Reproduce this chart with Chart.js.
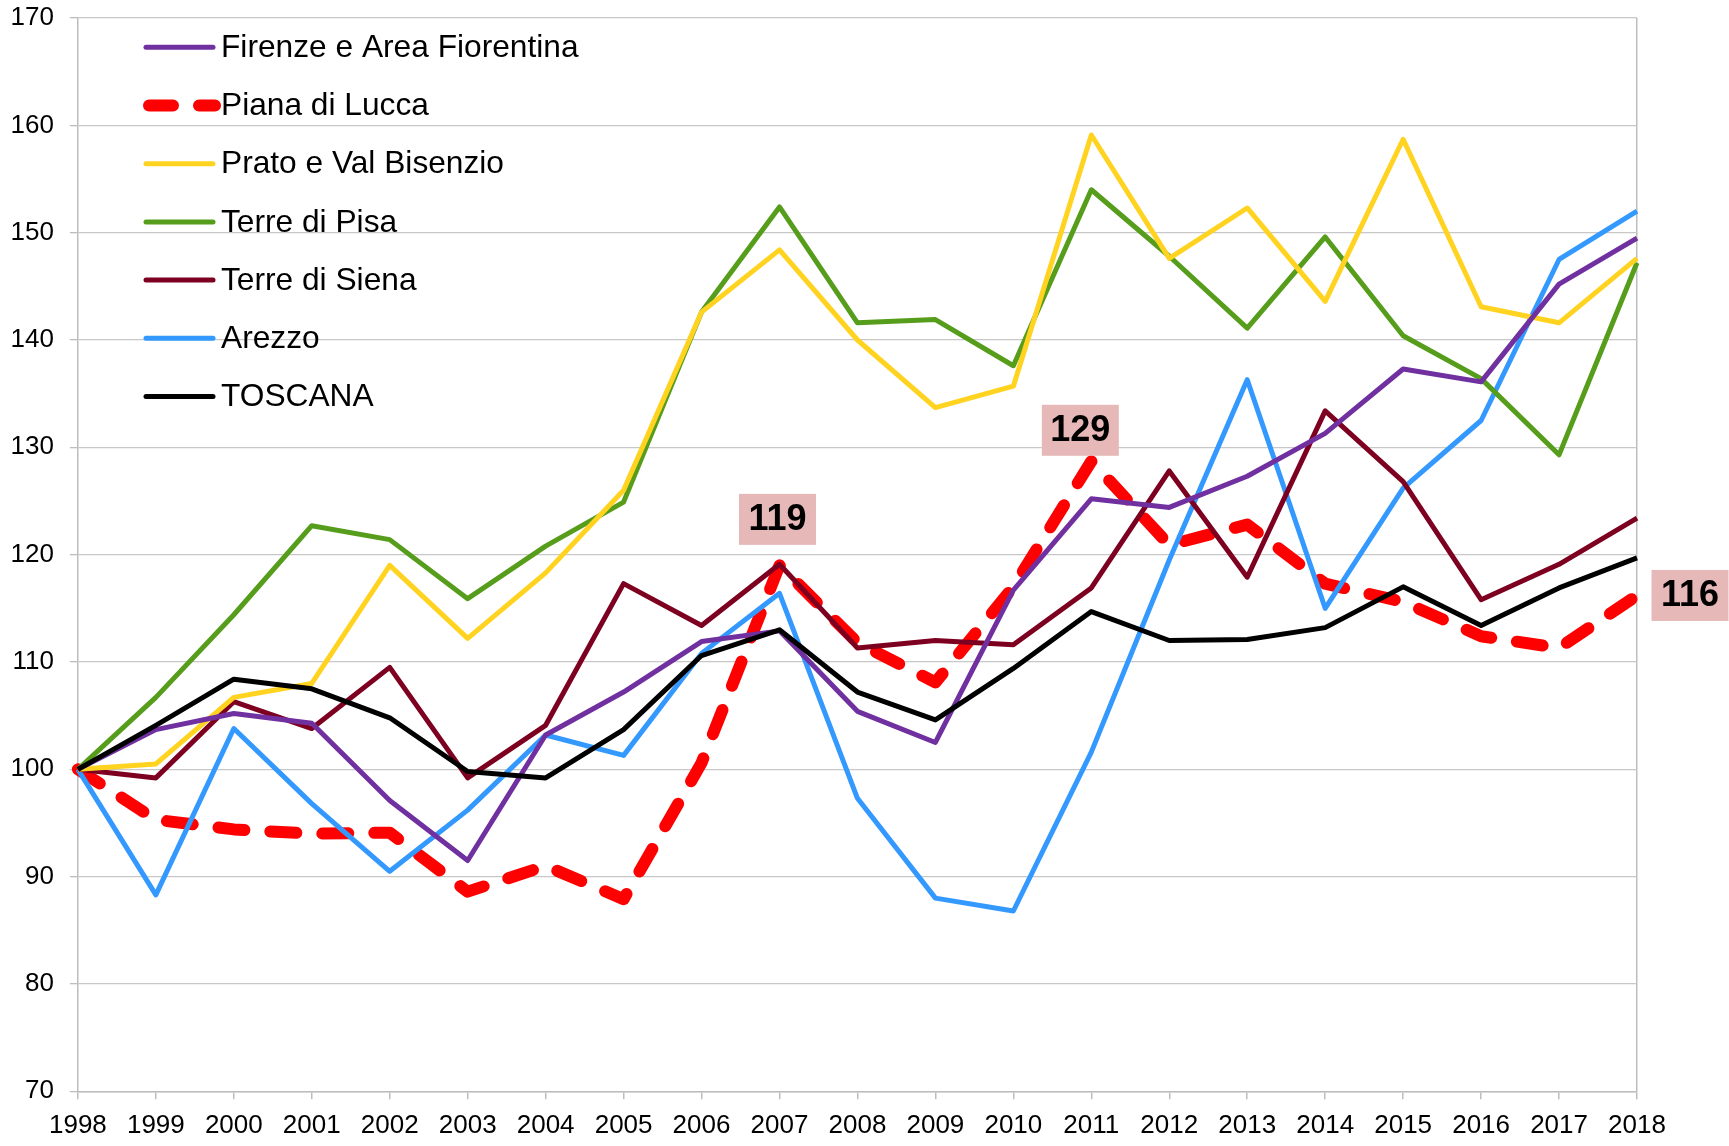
<!DOCTYPE html>
<html>
<head>
<meta charset="utf-8">
<script src="https://cdn.jsdelivr.net/npm/chart.js@4.4.1/dist/chart.umd.min.js"></script>
<style>
html,body{margin:0;padding:0;background:#fff;overflow:hidden}
#wrap{position:relative;width:1729px;height:1146px}
</style>
</head>
<body>
<div id="wrap"><canvas id="c"></canvas></div>
<script>
const years = ['1998','1999','2000','2001','2002','2003','2004','2005','2006','2007','2008','2009','2010','2011','2012','2013','2014','2015','2016','2017','2018'];
const seriesNames = ['Firenze e Area Fiorentina','Piana di Lucca','Prato e Val Bisenzio','Terre di Pisa','Terre di Siena','Arezzo','TOSCANA'];
const firenze = [100,103.7,105.2,104.3,97.1,91.5,103.2,107.2,111.9,112.9,105.4,102.5,116.7,125.2,124.4,127.3,131.3,137.3,136.1,145.2,149.5];
const lucca   = [100,95.3,94.4,94.0,94.1,88.6,91.0,87.9,100.6,119.0,111.8,108.1,117.0,128.7,120.9,122.8,117.3,115.6,112.4,111.3,116.2];
const prato   = [100,100.5,106.7,108.0,119.0,112.2,118.3,126.0,142.6,148.4,140.0,133.7,135.7,159.1,147.6,152.3,143.6,158.7,143.1,141.6,147.6];
const pisa    = [100,106.7,114.4,122.7,121.4,115.9,120.8,124.9,142.6,152.4,141.6,141.9,137.6,154.0,147.8,141.1,149.6,140.4,136.4,129.3,147.2];
const siena   = [100,99.2,106.3,103.8,109.5,99.2,104.1,117.3,113.4,119.1,111.3,112.0,111.6,116.9,127.8,117.9,133.4,126.8,115.8,119.1,123.4];
const arezzo  = [100,88.3,103.8,96.8,90.5,96.2,103.2,101.3,110.8,116.4,97.3,88.0,86.8,101.6,119.5,136.3,115.0,126.2,132.5,147.5,152.0];
const toscana = [100,104.1,108.4,107.5,104.8,99.8,99.2,103.7,110.6,113.0,107.2,104.6,109.4,114.7,112.0,112.1,113.2,117.0,113.4,116.9,119.7];
const labelledYears = ['2007','2011','2018'];
const yMin = 70, yMax = 170, yStep = 10;

const FONT = '"Liberation Sans", Arial, Helvetica, sans-serif';
Chart.defaults.font.family = FONT;
Chart.defaults.color = '#000';

const colors = ['#7030A0','#FF0000','#FFD320','#579D1C','#7E0021','#3399FF','#000000'];
const seriesData = [firenze, lucca, prato, pisa, siena, arezzo, toscana];

const datasets = seriesNames.map((name, i) => {
  const isLucca = i === 1;
  return {
    label: name,
    data: seriesData[i],
    borderColor: colors[i],
    backgroundColor: colors[i],
    borderWidth: isLucca ? 12 : 5,
    borderDash: isLucca ? [26, 26] : [],
    borderCapStyle: isLucca ? 'round' : 'butt',
    borderJoinStyle: 'round',
    pointRadius: 0,
    pointHoverRadius: 0,
    tension: 0,
    fill: false,
    order: isLucca ? 10 : (i === 6 ? 0 : 5)
  };
});

const bgPlugin = {
  id: 'bg',
  beforeDraw(chart) {
    const ctx = chart.ctx;
    ctx.save();
    ctx.fillStyle = '#fff';
    ctx.fillRect(0, 0, chart.width, chart.height);
    ctx.restore();
  }
};

const legendPlugin = {
  id: 'customLegend',
  afterDatasetsDraw(chart) {
    const ctx = chart.ctx;
    const tx = 221, y0 = 47.3, dy = 58.2;
    ctx.save();
    chart.data.datasets.forEach((ds, i) => {
      const y = y0 + i * dy;
      const dashed = ds.borderDash && ds.borderDash.length;
      ctx.beginPath();
      ctx.strokeStyle = ds.borderColor;
      ctx.lineWidth = ds.borderWidth;
      ctx.lineCap = 'round';
      ctx.setLineDash(dashed ? [24, 26] : []);
      ctx.moveTo(dashed ? 149 : 146, y);
      ctx.lineTo(dashed ? 215 : 213, y);
      ctx.stroke();
      ctx.setLineDash([]);
      ctx.fillStyle = '#000';
      ctx.font = '31.7px ' + FONT;
      ctx.textBaseline = 'middle';
      ctx.textAlign = 'left';
      ctx.fillText(ds.label, tx, y + 1);
    });
    ctx.restore();
  }
};

const labelPlugin = {
  id: 'valueBoxes',
  afterDatasetsDraw(chart) {
    const ctx = chart.ctx;
    const meta = chart.getDatasetMeta(1);
    const offsets = { '2007': [-2, -46], '2011': [-11, -31], '2018': [53, 0] };
    ctx.save();
    labelledYears.forEach(yr => {
      const idx = years.indexOf(yr);
      const pt = meta.data[idx];
      const val = chart.data.datasets[1].data[idx];
      const [dx, dyy] = offsets[yr];
      const cx = pt.x + dx, cy = pt.y + dyy;
      const w = 77, h = 51;
      ctx.fillStyle = '#E6B9B8';
      ctx.fillRect(cx - w / 2, cy - h / 2, w, h);
      ctx.fillStyle = '#000';
      ctx.font = 'bold 36px ' + FONT;
      ctx.textAlign = 'center';
      ctx.textBaseline = 'middle';
      ctx.fillText(String(Math.round(val)), cx, cy + 1);
    });
    ctx.restore();
  }
};

const lastIdx = years.length - 1;
new Chart(document.getElementById('c'), {
  type: 'line',
  data: { labels: years, datasets },
  options: {
    responsive: true,
    maintainAspectRatio: false,
    animation: false,
    events: [],
    layout: { padding: { left: 0, right: 92, top: 18, bottom: 0 } },
    plugins: { legend: { display: false }, tooltip: { enabled: false } },
    scales: {
      x: {
        type: 'category',
        offset: false,
        afterFit(scale) { scale.height = 54.7; scale.paddingLeft = 0; scale.paddingRight = 0; },
        grid: {
          drawOnChartArea: true,
          color: ctx => (ctx.index === lastIdx ? '#BDBDBD' : 'rgba(0,0,0,0)'),
          lineWidth: 1.5,
          tickColor: '#BDBDBD',
          tickLength: 8,
          drawTicks: true
        },
        border: { display: true, color: '#BDBDBD', width: 1.5 },
        ticks: { font: { size: 26 }, color: '#000', padding: 11, maxRotation: 0, autoSkip: false }
      },
      y: {
        min: yMin,
        max: yMax,
        afterFit(scale) { scale.width = 77.9; scale.paddingTop = 0; scale.paddingBottom = 0; },
        grid: { color: '#C8C8C8', lineWidth: 1.3, tickColor: '#BDBDBD', tickLength: 8, drawTicks: true },
        border: { display: true, color: '#BDBDBD', width: 1.5 },
        ticks: { stepSize: yStep, font: { size: 26 }, color: '#000', padding: 16 }
      }
    }
  },
  plugins: [bgPlugin, legendPlugin, labelPlugin]
});
</script>
</body>
</html>
